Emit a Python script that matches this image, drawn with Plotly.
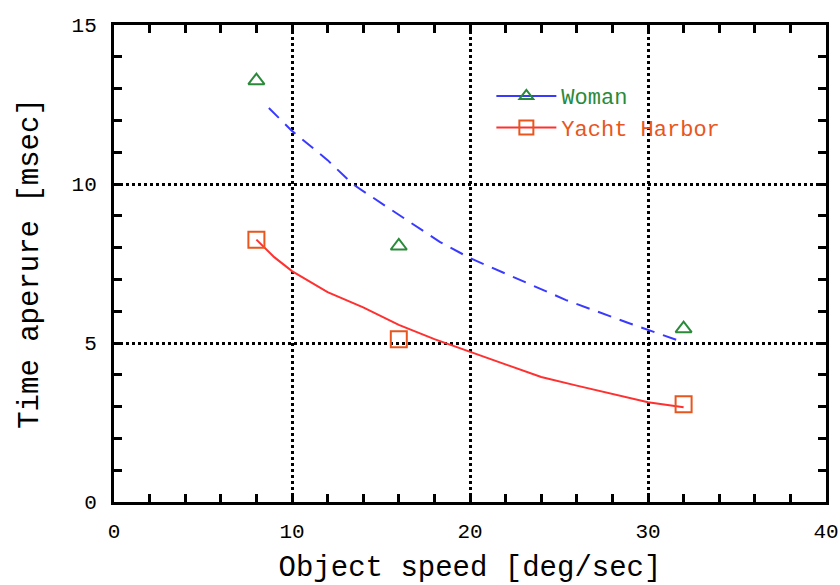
import plotly.graph_objects as go

# Measured data points
speed = [8, 16, 32]
woman = [13.25, 8.05, 5.45]
yacht = [8.25, 5.12, 3.07]

# Fit curves
woman_fit_x = [8.7, 10, 12, 13.4, 15.6, 18.3, 20, 21.8, 25.4, 28.9, 30, 32.1]
woman_fit_y = [12.39, 11.67, 10.75, 10.0, 9.18, 8.18, 7.67, 7.23, 6.35, 5.63, 5.41, 5.0]
yacht_fit_x = [8, 9, 10, 12, 14, 16, 18, 20, 22, 24, 26, 28, 30, 32]
yacht_fit_y = [8.25, 7.7, 7.26, 6.6, 6.12, 5.57, 5.12, 4.72, 4.33, 3.93, 3.66, 3.4, 3.14, 2.98]

x_ticks = [0, 10, 20, 30, 40]
y_ticks = [0, 5, 10, 15]

GREEN = "#2a8a3a"
BLUE = "#3a3aff"
RED = "#ff3030"
ORANGE = "#e8561e"
FONT = "Liberation Mono"

fig = go.Figure()
fig.add_trace(go.Scatter(x=woman_fit_x, y=woman_fit_y, mode="lines",
                         line=dict(color=BLUE, width=2, dash="14px,9px"),
                         showlegend=False, hoverinfo="skip"))
fig.add_trace(go.Scatter(x=yacht_fit_x, y=yacht_fit_y, mode="lines",
                         line=dict(color=RED, width=2),
                         showlegend=False, hoverinfo="skip"))
fig.add_trace(go.Scatter(x=speed, y=woman, mode="markers",
                         marker=dict(symbol="triangle-up-open", size=14,
                                     color=GREEN, line=dict(width=2, color=GREEN)),
                         showlegend=False))
fig.add_trace(go.Scatter(x=speed, y=yacht, mode="markers",
                         marker=dict(symbol="square-open", size=16,
                                     color=ORANGE, line=dict(width=2, color=ORANGE)),
                         showlegend=False))
# legend entries
fig.add_trace(go.Scatter(x=[None], y=[None], mode="lines+markers",
                         name=f"<span style='color:{GREEN}'>Woman</span>",
                         line=dict(color=BLUE, width=2),
                         marker=dict(symbol="triangle-up-open", size=12,
                                     color=GREEN, line=dict(width=2, color=GREEN))))
fig.add_trace(go.Scatter(x=[None], y=[None], mode="lines+markers",
                         name=f"<span style='color:{ORANGE}'>Yacht Harbor</span>",
                         line=dict(color=RED, width=2),
                         marker=dict(symbol="square-open", size=14,
                                     color=ORANGE, line=dict(width=2, color=ORANGE))))

axis_common = dict(
    showline=True, linecolor="black", linewidth=3, mirror="allticks",
    ticks="inside", ticklen=8, tickwidth=2.5, tickcolor="black",
    showgrid=True, gridcolor="black", gridwidth=2.5, griddash="dot",
    zeroline=False, automargin=False, ticklabeloverflow="allow",
    tickfont=dict(family=FONT, size=21, color="black"),
)

fig.update_xaxes(range=[0, 40], tickmode="array", tickvals=x_ticks,
                 ticktext=[str(v) for v in x_ticks], ticklabelstandoff=8,
                 minor=dict(dtick=2, ticks="inside", ticklen=8, tickwidth=2.5,
                            tickcolor="black", showgrid=False),
                 title=dict(text="Object speed [deg/sec]",
                            font=dict(family=FONT, size=29, color="black"),
                            standoff=16),
                 **axis_common)
fig.update_yaxes(range=[0, 15], tickmode="array", tickvals=y_ticks,
                 ticktext=[str(v) for v in y_ticks], ticklabelstandoff=10,
                 minor=dict(dtick=1, ticks="inside", ticklen=8, tickwidth=2.5,
                            tickcolor="black", showgrid=False),
                 title=dict(text="Time aperure [msec]",
                            font=dict(family=FONT, size=29, color="black"),
                            standoff=25),
                 **axis_common)

fig.update_layout(
    width=840, height=585,
    margin=dict(l=114, r=14, t=25, b=83),
    paper_bgcolor="white", plot_bgcolor="white",
    legend=dict(x=0.53, y=0.895, xanchor="left", yanchor="top",
                bgcolor="rgba(0,0,0,0)", borderwidth=0,
                font=dict(family=FONT, size=22), tracegroupgap=0,
                itemwidth=60),
)

fig.write_html("out.html")
